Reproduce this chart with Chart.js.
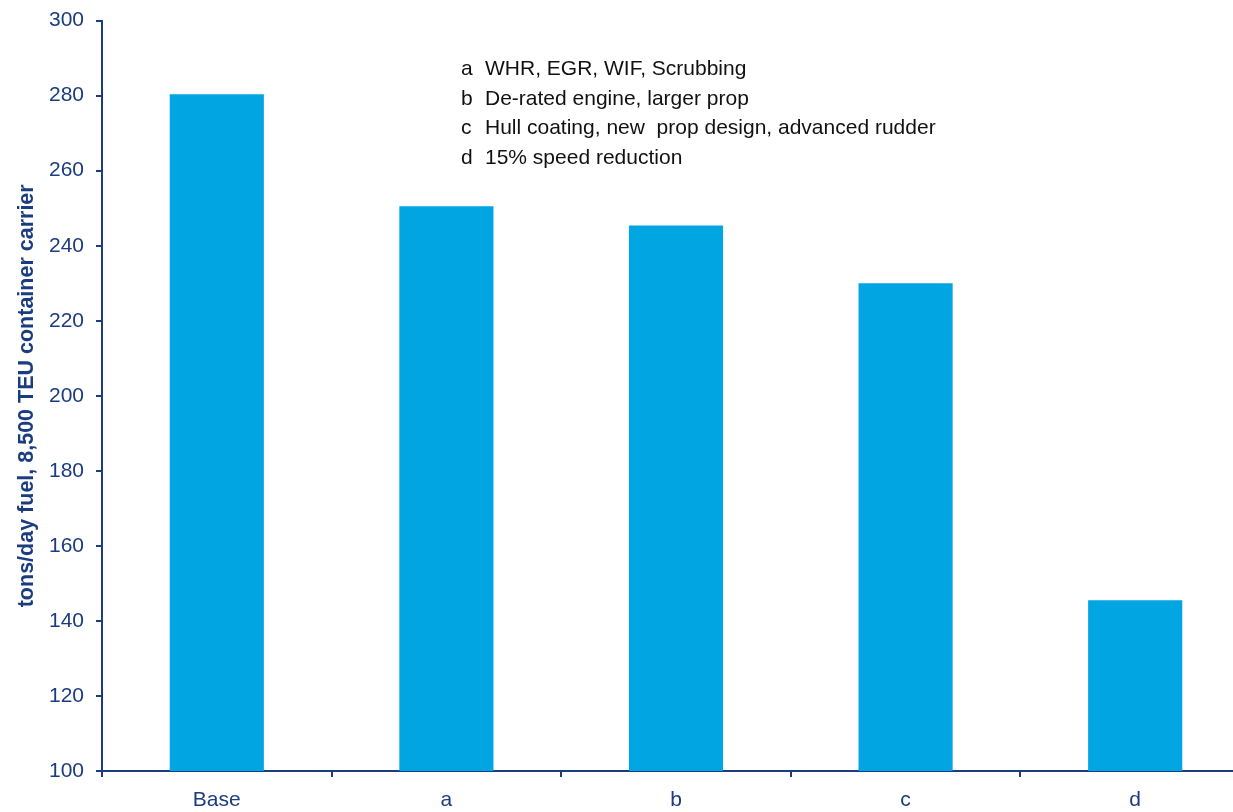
<!DOCTYPE html>
<html>
<head>
<meta charset="utf-8">
<script src="https://cdn.jsdelivr.net/npm/chart.js@4/dist/chart.umd.min.js"></script>
<style>
    html, body { margin: 0; padding: 0; background: #fff; overflow: hidden; }
    #wrap { width: 1233px; height: 812px; overflow: hidden; }
    canvas { display: block; margin-top: -4px; }
</style>
</head>
<body>
<div id="wrap"><canvas id="fuel-chart" width="1250" height="816"></canvas></div>
<script>
// Daily fuel burn per measure package
const categories = ['Base', 'a', 'b', 'c', 'd'];
const fuelPerDay = [280.4, 250.5, 245.4, 230, 145.5];
const yTicks = [100, 120, 140, 160, 180, 200, 220, 240, 260, 280, 300];

// Key to the lettered bars
const keyLetters = ['a', 'b', 'c', 'd'];
const keyTexts = [
    'WHR, EGR, WIF, Scrubbing',
    'De-rated engine, larger prop',
    'Hull coating, new  prop design, advanced rudder',
    '15% speed reduction'
];

const axisColor = '#1B3C7E';
const barColor = '#00A5E2';
const fontFamily = '"Liberation Sans", Arial, sans-serif';

const keyPlugin = {
    id: 'measureKey',
    afterDraw(chart) {
        const ctx = chart.ctx;
        const left = 461;
        ctx.save();
        ctx.font = `21px ${fontFamily}`;
        ctx.fillStyle = '#111';
        ctx.textBaseline = 'middle';
        keyLetters.forEach((letter, i) => {
            const y = 73 + i * 29.8;
            ctx.fillText(letter, left, y);
            ctx.fillText(keyTexts[i], left + 24, y);
        });
        ctx.restore();
    }
};

new Chart(document.getElementById('fuel-chart').getContext('2d'), {
    type: 'bar',
    data: {
        labels: categories,
        datasets: [{
            data: fuelPerDay,
            backgroundColor: barColor,
            borderWidth: 0,
            categoryPercentage: 1,
            barPercentage: 0.41
        }]
    },
    options: {
        responsive: false,
        animation: false,
        layout: { padding: { top: 16, right: 0, bottom: 0, left: 0 } },
        plugins: {
            legend: { display: false },
            tooltip: { enabled: false }
        },
        scales: {
            x: {
                grid: {
                    drawOnChartArea: false,
                    drawTicks: true,
                    tickLength: 6,
                    color: axisColor,
                    lineWidth: 2
                },
                border: { color: axisColor, width: 2 },
                ticks: {
                    color: axisColor,
                    padding: 11,
                    maxRotation: 0,
                    font: { family: fontFamily, size: 21 }
                },
                afterFit: (scale) => { scale.height = 41; }
            },
            y: {
                min: 100,
                max: 300,
                afterBuildTicks: (scale) => {
                    scale.ticks = yTicks.map(v => ({ value: v }));
                },
                grid: {
                    drawOnChartArea: false,
                    drawTicks: true,
                    tickLength: 6,
                    color: axisColor,
                    lineWidth: 2
                },
                border: { color: axisColor, width: 2 },
                ticks: {
                    color: axisColor,
                    padding: 12,
                    font: { family: fontFamily, size: 21 }
                },
                title: {
                    display: true,
                    text: 'tons/day fuel, 8,500 TEU container carrier',
                    color: axisColor,
                    padding: { top: 14, bottom: 0 },
                    font: { family: fontFamily, size: 21.5, weight: 'bold' }
                },
                afterFit: (scale) => { scale.width = 102; }
            }
        }
    },
    plugins: [keyPlugin]
});
</script>
</body>
</html>
